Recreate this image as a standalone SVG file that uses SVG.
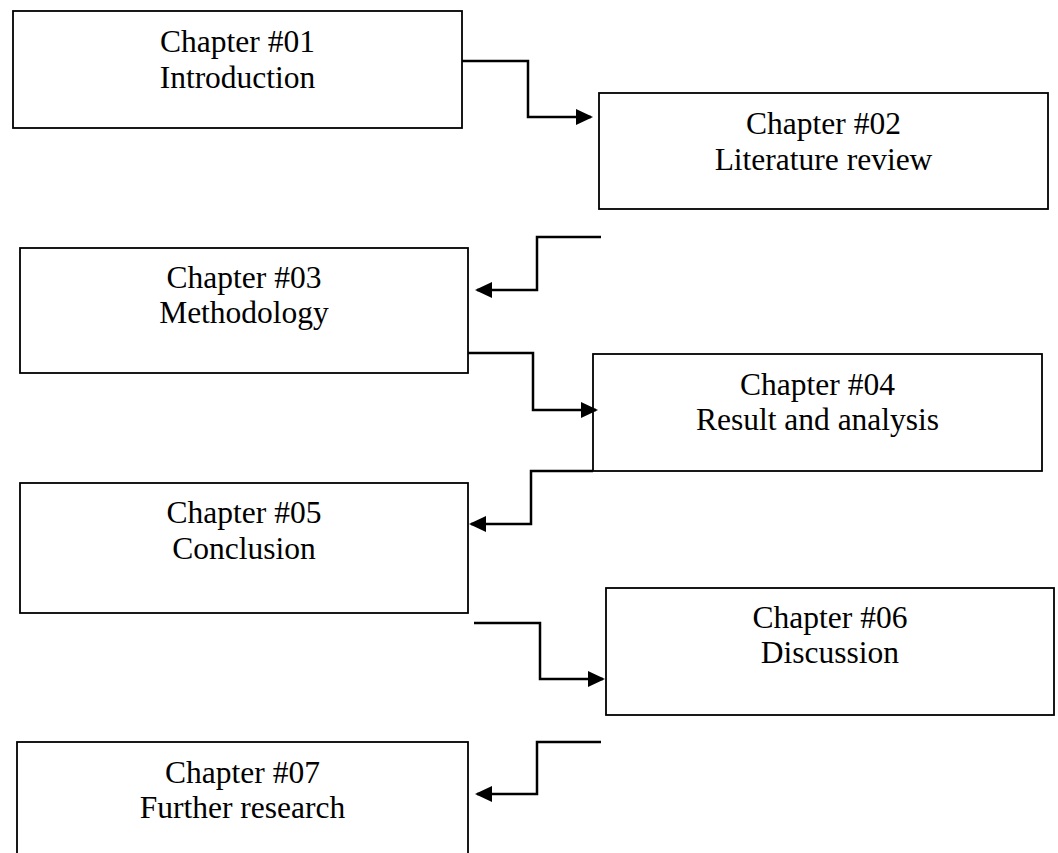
<svg xmlns="http://www.w3.org/2000/svg" width="1058" height="853" viewBox="0 0 1058 853">
<style>
.box{fill:#fff;stroke:#000;stroke-width:1.8}
.lbl{font-family:"Liberation Serif","Times New Roman",serif;font-size:31.5px;fill:#000;text-anchor:middle}
.con{fill:none;stroke:#000;stroke-width:2.5}
</style>
<defs>
<marker id="ah" markerUnits="userSpaceOnUse" markerWidth="18" markerHeight="16" refX="15" refY="8" orient="auto">
<path d="M0,0 L17,8 L0,16 z" fill="#000"/>
</marker>
</defs>
<rect width="1058" height="853" fill="#fff"/>
<g id="ch01"><rect class="box" x="13" y="11" width="449" height="117"/><text class="lbl" x="237.5" y="52">Chapter #01</text><text class="lbl" x="237.5" y="88">Introduction</text></g>
<g id="ch02"><rect class="box" x="599" y="93" width="449" height="116"/><text class="lbl" x="823.5" y="134">Chapter #02</text><text class="lbl" x="823.5" y="170">Literature review</text></g>
<g id="ch03"><rect class="box" x="20" y="248" width="448" height="125"/><text class="lbl" x="244" y="288">Chapter #03</text><text class="lbl" x="244" y="323">Methodology</text></g>
<g id="ch04"><rect class="box" x="593" y="354" width="449" height="117"/><text class="lbl" x="817.5" y="395">Chapter #04</text><text class="lbl" x="817.5" y="430">Result and analysis</text></g>
<g id="ch05"><rect class="box" x="20" y="483" width="448" height="130"/><text class="lbl" x="244" y="523">Chapter #05</text><text class="lbl" x="244" y="559">Conclusion</text></g>
<g id="ch06"><rect class="box" x="606" y="588" width="448" height="127"/><text class="lbl" x="830" y="628">Chapter #06</text><text class="lbl" x="830" y="663">Discussion</text></g>
<g id="ch07"><rect class="box" x="17" y="742" width="451" height="130"/><text class="lbl" x="242.5" y="783">Chapter #07</text><text class="lbl" x="242.5" y="818">Further research</text></g>
<g id="connectors">
<path class="con" d="M462,61 H528 V117 H591" marker-end="url(#ah)"/>
<path class="con" d="M601,237 H537 V290 H477" marker-end="url(#ah)"/>
<path class="con" d="M468,353 H533 V410 H596" marker-end="url(#ah)"/>
<path class="con" d="M593,471 H531 V524 H471" marker-end="url(#ah)"/>
<path class="con" d="M474,623 H540 V679 H603" marker-end="url(#ah)"/>
<path class="con" d="M601,742 H537 V794 H477" marker-end="url(#ah)"/>
</g>
</svg>
